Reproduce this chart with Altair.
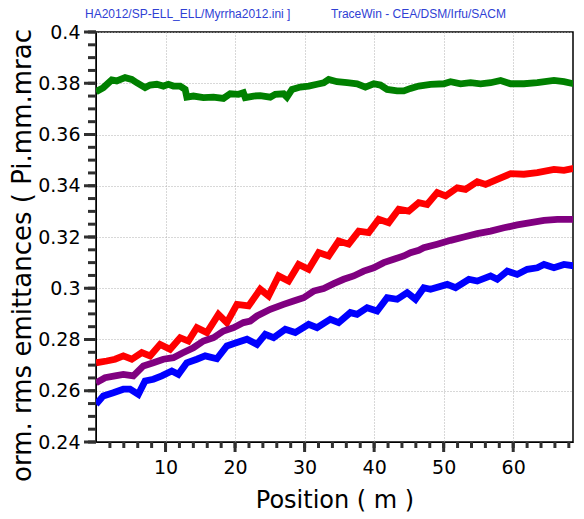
import altair as alt
import pandas as pd

# ---- data ----
series_names = ["Ex", "Ey", "Ez", "El"]
series_colors = ["#008000", "#ff0000", "#800080", "#0000ff"]

green_x = [0, 1.05, 2.26, 2.98, 4.18, 5.14, 5.86, 7.06, 7.78, 8.74, 9.69, 10.41, 11.13, 12.1, 12.82,
           13.06, 14.01, 15.45, 16.89, 18.33, 19.3, 20.5, 21.2, 21.46, 22.66, 23.62, 25.06, 25.78,
           26.98, 27.46, 28.19, 29.38, 30.58, 31.79, 32.74, 33.46, 34.67, 36.11, 37.55, 38.74, 39.94,
           40.9, 41.87, 43.31, 44.26, 45.23, 46.42, 48.11, 50.02, 50.99, 52.43, 53.87, 55.31, 56.75,
           58.19, 59.63, 61.54, 63.47, 65.86, 67.3, 68.7]
green_y = [0.3767, 0.3783, 0.3813, 0.3809, 0.3822, 0.3815, 0.3802, 0.3783, 0.3793, 0.3796, 0.3789,
           0.3796, 0.3789, 0.3789, 0.3776, 0.3746, 0.375, 0.3744, 0.3746, 0.3741, 0.3759, 0.3757,
           0.3763, 0.3744, 0.375, 0.3752, 0.3746, 0.3757, 0.3759, 0.3746, 0.3776, 0.3785, 0.3789,
           0.3796, 0.3802, 0.3815, 0.3806, 0.3802, 0.3798, 0.3785, 0.3798, 0.3793, 0.3776, 0.377,
           0.377, 0.378, 0.3789, 0.3796, 0.3798, 0.3806, 0.3798, 0.3802, 0.3798, 0.3802, 0.3811,
           0.3798, 0.3798, 0.3802, 0.3811, 0.3806, 0.3798]

red_x = [0, 1.54, 2.74, 3.93, 5.14, 6.58, 7.78, 9.22, 10.66, 12.1, 13.29, 14.5, 15.94, 17.61, 18.82,
         20.27, 21.94, 23.62, 24.82, 26.26, 27.7, 29.14, 30.58, 32.02, 33.46, 34.9, 36.34, 37.78,
         39.22, 40.66, 42.1, 43.54, 44.98, 46.42, 47.63, 49.07, 50.27, 51.95, 53.15, 54.83, 56.03,
         57.71, 59.63, 61.54, 63.47, 65.86, 67.3, 68.74]
red_y = [0.2709, 0.2716, 0.2723, 0.2736, 0.2723, 0.2749, 0.2736, 0.2781, 0.2762, 0.2807, 0.2794,
         0.2846, 0.2827, 0.2898, 0.2866, 0.2937, 0.2931, 0.2996, 0.297, 0.3048, 0.3028, 0.3093,
         0.3074, 0.3139, 0.3126, 0.3184, 0.3172, 0.3223, 0.3217, 0.3269, 0.3256, 0.3308, 0.3301,
         0.3334, 0.3327, 0.3373, 0.336, 0.3392, 0.3386, 0.3416, 0.3405, 0.3425, 0.3447, 0.3445,
         0.3451, 0.3464, 0.346, 0.3468]

purple_x = [0, 1.3, 2.74, 3.93, 5.37, 6.81, 8.25, 9.69, 11.13, 12.57, 14.01, 15.45, 16.89, 18.33,
            19.78, 21.22, 22.18, 23.15, 25.06, 26.98, 28.42, 29.86, 31.3, 32.74, 34.18, 35.62, 37.06,
            38.5, 39.94, 41.38, 42.82, 44.26, 45.23, 46.42, 47.14, 49.07, 50.99, 52.9, 54.83, 56.75,
            58.66, 60.58, 62.51, 64.43, 66.35, 68.74]
purple_y = [0.2631, 0.2651, 0.2658, 0.2664, 0.2658, 0.2697, 0.2709, 0.2723, 0.2729, 0.2749, 0.2768,
            0.2794, 0.2807, 0.2833, 0.2846, 0.2866, 0.2872, 0.2892, 0.2918, 0.2937, 0.295, 0.2963,
            0.2989, 0.2999, 0.3018, 0.3035, 0.3048, 0.3067, 0.308, 0.31, 0.3113, 0.3126, 0.3139,
            0.3148, 0.3158, 0.3172, 0.3187, 0.32, 0.3213, 0.3223, 0.3236, 0.3247, 0.3256, 0.3265,
            0.3269, 0.3269]

blue_x = [0, 1.05, 2.49, 3.93, 4.9, 6.09, 7.06, 8.25, 9.46, 10.9, 11.85, 13.06, 14.5, 15.7, 17.38,
          18.82, 20.27, 21.71, 23.15, 24.34, 25.54, 27.22, 28.66, 30.58, 31.79, 33.7, 34.9, 36.58,
          37.55, 38.99, 40.43, 41.87, 43.31, 44.75, 45.95, 47.14, 48.11, 50.51, 51.71, 53.62, 54.83,
          56.75, 57.71, 59.15, 60.58, 62.02, 63.47, 64.43, 65.86, 67.3, 68.74]
blue_y = [0.2547, 0.258, 0.2592, 0.2606, 0.2606, 0.2586, 0.2638, 0.2645, 0.2658, 0.2677, 0.2664,
          0.2709, 0.2723, 0.2736, 0.2725, 0.2775, 0.2788, 0.2801, 0.2781, 0.282, 0.2807, 0.284,
          0.2827, 0.2859, 0.2846, 0.2879, 0.2866, 0.2905, 0.2898, 0.2924, 0.2911, 0.2963, 0.2957,
          0.2983, 0.2957, 0.3002, 0.2996, 0.3015, 0.3002, 0.3035, 0.3028, 0.3048, 0.3035, 0.3067,
          0.3054, 0.3074, 0.308, 0.3093, 0.308, 0.3093, 0.3087]

x_major = [10, 20, 30, 40, 50, 60]
x_minor = list(range(2, 69, 2))
y_major = [0.24, 0.26, 0.28, 0.30, 0.32, 0.34, 0.36, 0.38, 0.40]
y_minor = [round(0.24 + 0.005 * i, 3) for i in range(33)]

header_left = "HA2012/SP-ELL_ELL/Myrrha2012.ini ]"
header_right = "TraceWin - CEA/DSM/Irfu/SACM"
x_title = "Position ( m )"
y_title = "orm. rms emittances ( Pi.mm.mrac"

# ---- build table ----
rows = []
for name, xs, ys in zip(series_names, [green_x, red_x, purple_x, blue_x],
                        [green_y, red_y, purple_y, blue_y]):
    assert len(xs) == len(ys), name
    for i, (a, b) in enumerate(zip(xs, ys)):
        rows.append({"series": name, "pos": a, "emit": b, "idx": i})
df = pd.DataFrame(rows)

PLOT_W, PLOT_H = 477, 410
FONT = "DejaVu Sans"
TICK = "#303030"
xs_scale = alt.Scale(domain=[0, 68.6], nice=False, zero=False)
ys_scale = alt.Scale(domain=[0.24, 0.4], nice=False, zero=False)

x_axis = alt.Axis(
    orient="bottom", values=x_major, ticks=False,
    grid=True, gridColor="#b0b0b0", gridDash=[1, 2], gridWidth=1,
    labelFont=FONT, labelFontSize=19, labelColor="#000", labelPadding=16, labelFlush=False,
    title=x_title, titleFont=FONT, titleFontSize=24, titleFontWeight="normal",
    titleColor="#000", titleY=65, titleBaseline="alphabetic",
    domainColor="#000",
)
y_axis = alt.Axis(
    orient="left", values=y_major, format=".2~f", ticks=False,
    grid=True, gridColor="#b0b0b0", gridDash=[1, 2], gridWidth=1,
    labelFont=FONT, labelFontSize=19, labelColor="#000", labelPadding=16, labelFlush=False,
    title=y_title, titleFont=FONT, titleFontSize=26, titleFontWeight="normal",
    titleColor="#000", titleX=-66, titleY=223, titleAngle=270, titleAlign="center",
    titleBaseline="alphabetic",
    domainColor="#000",
)

X = alt.X("pos:Q", scale=xs_scale, axis=x_axis)
Y = alt.Y("emit:Q", scale=ys_scale, axis=y_axis)

lines = alt.Chart(df).mark_line(strokeWidth=6.8, clip=True).encode(
    x=X, y=Y,
    color=alt.Color("series:N", scale=alt.Scale(domain=series_names, range=series_colors), legend=None),
    order="idx:Q",
)

# tick marks drawn on the shared scales
yt_major = alt.Chart(pd.DataFrame({"emit": y_major})).mark_rule(color=TICK, strokeWidth=3).encode(
    y=Y, x=alt.value(-12), x2=alt.value(0))
yt_minor = alt.Chart(pd.DataFrame({"emit": y_minor})).mark_rule(color=TICK, strokeWidth=3).encode(
    y=Y, x=alt.value(-8), x2=alt.value(0))
xt_major = alt.Chart(pd.DataFrame({"pos": x_major})).mark_rule(color=TICK, strokeWidth=3).encode(
    x=X, y=alt.value(PLOT_H), y2=alt.value(PLOT_H + 10))
xt_minor = alt.Chart(pd.DataFrame({"pos": x_minor})).mark_rule(color=TICK, strokeWidth=3).encode(
    x=X, y=alt.value(PLOT_H), y2=alt.value(PLOT_H + 6))

hdr_left = alt.Chart(pd.DataFrame({"t": [header_left]})).mark_text(
    align="left", baseline="alphabetic", font="Liberation Sans", fontSize=12, color="#2f3fd4"
).encode(x=alt.value(-11), y=alt.value(-14), text="t:N")
hdr_right = alt.Chart(pd.DataFrame({"t": [header_right]})).mark_text(
    align="left", baseline="alphabetic", font="Liberation Sans", fontSize=12, color="#2f3fd4"
).encode(x=alt.value(235), y=alt.value(-14), text="t:N")

chart = alt.layer(lines, yt_major, yt_minor, xt_major, xt_minor, hdr_left, hdr_right).properties(
    width=PLOT_W, height=PLOT_H,
    autosize=alt.AutoSizeParams(type="none"),
    padding={"left": 96, "top": 32, "right": 11, "bottom": 77},
    background="white",
).configure_view(stroke="#000", strokeWidth=1.5)

chart.save("out.html", embed_options={"renderer": "svg", "actions": False})
